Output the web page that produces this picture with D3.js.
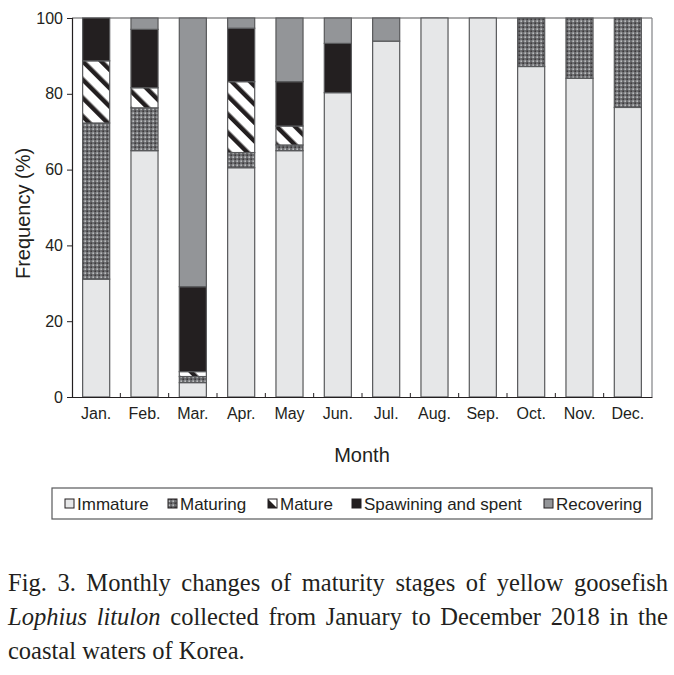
<!DOCTYPE html>
<html>
<head>
<meta charset="utf-8">
<script src="https://cdn.jsdelivr.net/npm/d3@7"></script>
<style>
  html, body { margin: 0; padding: 0; background: #fff; }
  #wrap { position: relative; width: 674px; height: 675px; overflow: hidden; }
  svg { position: absolute; left: 0; top: 0; }
  .cap { position: absolute; left: 8px; width: 660px; font-family: "Liberation Serif", "Times New Roman", serif; font-size: 24.5px; color: #231f20; white-space: nowrap; line-height: 28px; }
  .just { text-align: justify; text-align-last: justify; white-space: normal; }
</style>
</head>
<body>
<div id="wrap">
  <svg id="chart" width="674" height="560"></svg>
  <div class="cap just" style="top:569px;">Fig. 3. Monthly changes of maturity stages of yellow goosefish</div>
  <div class="cap just" style="top:603px;"><i>Lophius litulon</i> collected from January to December 2018 in the</div>
  <div class="cap" style="top:637px;">coastal waters of Korea.</div>
</div>
<script>
const months = ["Jan.", "Feb.", "Mar.", "Apr.", "May", "Jun.", "Jul.", "Aug.", "Sep.", "Oct.", "Nov.", "Dec."];
const seriesNames = ["Immature", "Maturing", "Mature", "Spawining and spent", "Recovering"];
const immature   = [31.1, 65.0, 3.8, 60.5, 65.0, 80.3, 93.9, 100, 100, 87.2, 84.1, 76.4];
const maturing   = [41.2, 11.3, 1.6, 4.0, 1.5, 0, 0, 0, 0, 12.8, 15.9, 23.6];
const mature     = [16.4, 5.3, 1.3, 18.7, 5.0, 0, 0, 0, 0, 0, 0, 0];
const spawning   = [11.3, 15.4, 22.4, 14.1, 11.7, 13.0, 0, 0, 0, 0, 0, 0];
const recovering = [0, 3.0, 70.9, 2.7, 16.8, 6.7, 6.1, 0, 0, 0, 0, 0];
const yTicks = [0, 20, 40, 60, 80, 100];

(function () {
const keys = ["immature", "maturing", "mature", "spawning", "recovering"];
const table = months.map((m, i) => ({
  month: m, immature: immature[i], maturing: maturing[i], mature: mature[i],
  spawning: spawning[i], recovering: recovering[i]
}));

const svg = d3.select("#chart");
const defs = svg.append("defs");

// Maturing: fine dotted checker
const p1 = defs.append("pattern").attr("id", "pMaturing").attr("patternUnits", "userSpaceOnUse")
  .attr("width", 4).attr("height", 4);
p1.append("rect").attr("width", 4).attr("height", 4).attr("fill", "#6d6e71");
p1.append("rect").attr("x", 0.5).attr("y", 0.5).attr("width", 1.3).attr("height", 1.3).attr("fill", "#e6e7e8");
p1.append("rect").attr("x", 2.5).attr("y", 2.5).attr("width", 1.3).attr("height", 1.3).attr("fill", "#231f20");

// Mature: diagonal "\" stripes
const p2 = defs.append("pattern").attr("id", "pMature").attr("patternUnits", "userSpaceOnUse")
  .attr("width", 13).attr("height", 13).attr("patternTransform", "rotate(-45)");
p2.append("rect").attr("width", 13).attr("height", 13).attr("fill", "#ffffff");
p2.append("rect").attr("width", 4.5).attr("height", 13).attr("fill", "#231f20");

// Mature legend swatch: half black (lower-left triangle)
const p3 = defs.append("pattern").attr("id", "pMatureLeg").attr("patternUnits", "objectBoundingBox")
  .attr("patternContentUnits", "objectBoundingBox").attr("width", 1).attr("height", 1);
p3.append("rect").attr("width", 1).attr("height", 1).attr("fill", "#ffffff");
p3.append("path").attr("d", "M0,0 L1,1 L0,1 Z").attr("fill", "#231f20");

const fills = {
  immature: "#e6e7e8",
  maturing: "url(#pMaturing)",
  mature: "url(#pMature)",
  spawning: "#231f20",
  recovering: "#939598"
};
const legFills = Object.assign({}, fills, { mature: "url(#pMatureLeg)" });

const L = 72, R = 652, T = 18, B = 397;

const x = d3.scaleBand().domain(months).range([L, R]).paddingInner(0.44).paddingOuter(0.22);
const y = d3.scaleLinear().domain([0, 100]).range([B, T]);

const stacked = d3.stack().keys(keys)(table);

// frame top and right
svg.append("line").attr("x1", L).attr("x2", R).attr("y1", T).attr("y2", T)
  .attr("stroke", "#58595b").attr("stroke-width", 1.2);
svg.append("line").attr("x1", R).attr("x2", R).attr("y1", T).attr("y2", B)
  .attr("stroke", "#808285").attr("stroke-width", 1.2);

// bars
stacked.forEach(layer => {
  svg.append("g").selectAll("rect")
    .data(layer.filter(d => d[1] - d[0] > 0))
    .join("rect")
    .attr("x", d => x(d.data.month))
    .attr("width", x.bandwidth())
    .attr("y", d => y(d[1]))
    .attr("height", d => y(d[0]) - y(d[1]))
    .attr("fill", fills[layer.key])
    .attr("stroke", "#58595b")
    .attr("stroke-width", 1.2);
});

// y axis
const yAxis = svg.append("g").attr("transform", `translate(${L},0)`)
  .call(d3.axisLeft(y).tickValues(yTicks).tickSize(5).tickPadding(4));
yAxis.select(".domain").attr("stroke", "#231f20").attr("stroke-width", 1.2);
yAxis.selectAll(".tick line").attr("stroke", "#231f20");
yAxis.selectAll("text").attr("font-family", "Liberation Sans, Arial, sans-serif")
  .attr("font-size", 16).attr("fill", "#231f20");

// x axis
const xAxis = svg.append("g").attr("transform", `translate(0,${B})`)
  .call(d3.axisBottom(x).tickSize(0).tickPadding(11));
xAxis.select(".domain").attr("stroke", "#231f20").attr("stroke-width", 1.2);
xAxis.selectAll("text").attr("font-family", "Liberation Sans, Arial, sans-serif")
  .attr("font-size", 16).attr("fill", "#231f20");

// small inner ticks at band boundaries
svg.append("g").selectAll("line")
  .data(months.slice(1))
  .join("line")
  .attr("x1", d => x(d) - x.step() * x.paddingInner() / 2)
  .attr("x2", d => x(d) - x.step() * x.paddingInner() / 2)
  .attr("y1", B).attr("y2", B - 4)
  .attr("stroke", "#231f20").attr("stroke-width", 1);

// axis titles
svg.append("text").attr("x", (L + R) / 2).attr("y", 462)
  .attr("text-anchor", "middle").attr("font-family", "Liberation Sans, Arial, sans-serif")
  .attr("font-size", 20).attr("fill", "#231f20").text("Month");
svg.append("text").attr("transform", `translate(30,${(T + B) / 2 + 6}) rotate(-90)`)
  .attr("text-anchor", "middle").attr("font-family", "Liberation Sans, Arial, sans-serif")
  .attr("font-size", 20).attr("fill", "#231f20").text("Frequency (%)");

// legend
svg.append("rect").attr("x", 52).attr("y", 488).attr("width", 600).attr("height", 31)
  .attr("fill", "none").attr("stroke", "#58595b").attr("stroke-width", 1.2);
const legX = [65, 168, 268, 352, 544];
const leg = svg.append("g").selectAll("g").data(keys).join("g")
  .attr("transform", (d, i) => `translate(${legX[i]},0)`);
leg.append("rect").attr("x", 0).attr("y", 499).attr("width", 9).attr("height", 9)
  .attr("fill", d => legFills[d]).attr("stroke", "#231f20").attr("stroke-width", 1);
leg.append("text").attr("x", 12).attr("y", 509.5)
  .attr("font-family", "Liberation Sans, Arial, sans-serif").attr("font-size", 17)
  .attr("fill", "#231f20").text((d, i) => seriesNames[i]);
})();
</script>
</body>
</html>
